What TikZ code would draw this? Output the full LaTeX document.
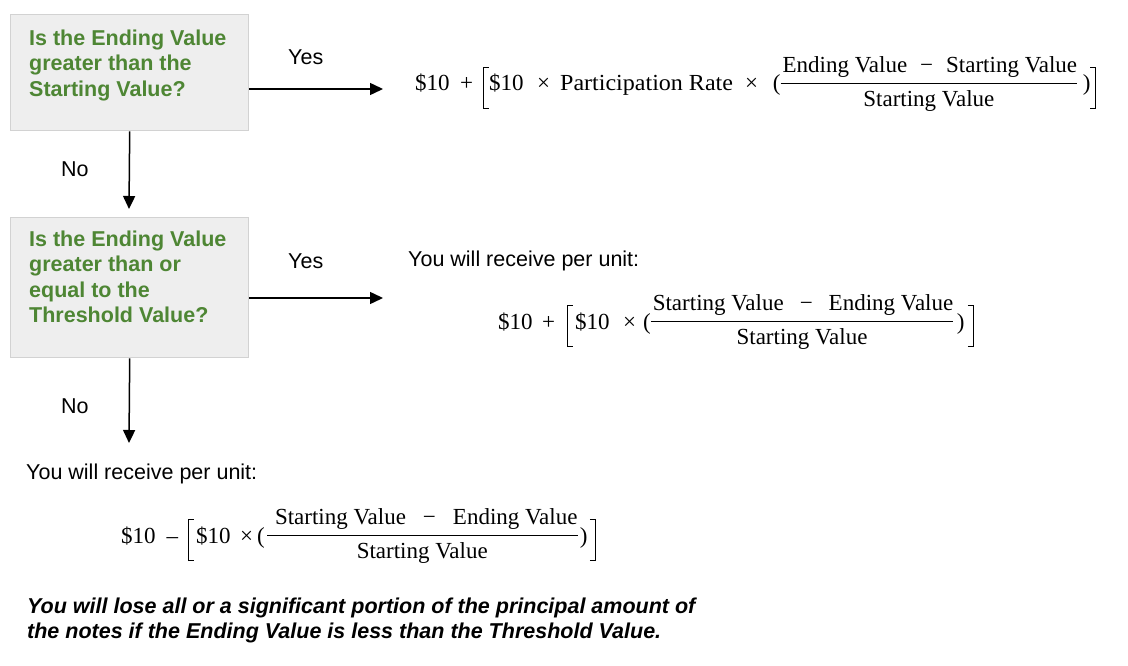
\documentclass[tikz,border=0pt]{standalone}
\usepackage{amsmath}
\usepackage{fontspec}
\setmainfont{Liberation Sans}
\newfontfamily\frm{Liberation Serif}
\usetikzlibrary{arrows.meta}
\definecolor{qgreen}{RGB}{78,134,52}
\definecolor{boxfill}{RGB}{238,238,238}
\definecolor{boxline}{RGB}{210,210,210}
\newcommand{\lbrk}{\rlap{\rule[23pt]{6pt}{1.1pt}}\rlap{\rule[-18pt]{6pt}{1.1pt}}\rule[-18pt]{1.2pt}{42pt}\hspace{4.8pt}}
\newcommand{\rbrk}{\hspace{4.8pt}\rule[-18pt]{1.2pt}{42pt}\llap{\rule[23pt]{6pt}{1.1pt}}\llap{\rule[-18pt]{6pt}{1.1pt}}}
\newcommand{\myfrac}[2]{\raisebox{1.5pt}{$\displaystyle\frac{\text{#1}}{\text{#2}}$}}
\tikzset{
  qbox/.style={draw=boxline, fill=boxfill, line width=1.4pt, rectangle, inner sep=0pt},
  qtext/.style={anchor=north west, inner sep=0pt, align=left, text=qgreen,
    font=\fontsize{21.5}{25.5}\selectfont\bfseries},
  lbl/.style={anchor=base west, inner sep=0pt, font=\fontsize{21.5}{25.5}\selectfont},
  formula/.style={anchor=base west, inner sep=0pt, font=\frm\fontsize{23}{27}\selectfont},
  arr/.style={line width=1.5pt, -{Triangle[length=13pt,width=12pt]}},
}
\begin{document}
\begin{tikzpicture}[x=1pt,y=-1pt]
\path[fill=white] (0,0) rectangle (1128,666);
\useasboundingbox (0,0) rectangle (1128,666);
% boxes
\node[qbox, minimum width=238pt, minimum height=116pt, anchor=north west] (q1) at (10,14) {};
\node[qtext] (q1t) at (29,29.5) {Is the Ending Value\\greater than the\\Starting Value?};
\node[qbox, minimum width=238pt, minimum height=140pt, anchor=north west] (q2) at (10,217) {};
\node[qtext] (q2t) at (29,230.5) {Is the Ending Value\\greater than or\\equal to the\\Threshold Value?};
% arrow targets
\coordinate (e1) at (383,89);
\coordinate (e2) at (383,298);
\coordinate (d1) at (129,209);
\coordinate (d2) at (129,443);
\draw[arr] (e1 -| q1.east) -- (e1);
\draw[arr] (q1.south) -- (d1);
\draw[arr] (e2 -| q2.east) -- (e2);
\draw[arr] (q2.south) -- (d2);
% labels
\node[lbl] (y1) at (288,65) {Yes};
\node[lbl] (n1) at (61,177) {No};
\node[lbl] (y2) at (288,268) {Yes};
\node[lbl] (n2) at (61,413) {No};
\node[lbl] (r2) at (408,266) {You will receive per unit:};
\node[lbl] (r3) at (26,479) {You will receive per unit:};
% formulas
\node[formula] (f1) at (415,91) {\$10\hspace{10.5pt}+\hspace{10pt}\lbrk\$10\hspace{13.5pt}×\hspace{10pt}\scalebox{1.045}[1]{Participation Rate}\hspace{12pt}×\hspace{15pt}(\hspace{-1.2pt}\myfrac{\hspace{2pt}Ending Value\hspace{13pt}−\hspace{13pt}Starting Value}{Starting Value}\hspace{4.5pt})\rbrk};
\node[formula] (f2) at (498,329) {\$10\hspace{9.5pt}+\hspace{12pt}\lbrk\hspace{2pt}\$10\hspace{13.5pt}×\hspace{7pt}(\hspace{-1.2pt}\myfrac{\hspace{2pt}Starting Value\hspace{16pt}−\hspace{16pt}Ending Value}{Starting Value}\hspace{2.5pt})\hspace{3.3pt}\rbrk};
\node[formula] (f3) at (121,543) {\$10\hspace{11pt}–\hspace{10pt}\lbrk\hspace{2pt}\$10\hspace{9.5pt}×\hspace{4pt}(\hspace{1pt}\myfrac{\hspace{8pt}Starting Value\hspace{17pt}−\hspace{17pt}Ending Value}{Starting Value}\hspace{1.2pt})\hspace{2.3pt}\rbrk};
% note
\node[anchor=north west, inner sep=0pt, align=left, font=\fontsize{21.5}{25.5}\selectfont\bfseries\itshape] (note) at (27,597.5) {You will lose all or a significant portion of the principal amount of\\the notes if the Ending Value is less than the Threshold Value.};
\end{tikzpicture}
\end{document}
